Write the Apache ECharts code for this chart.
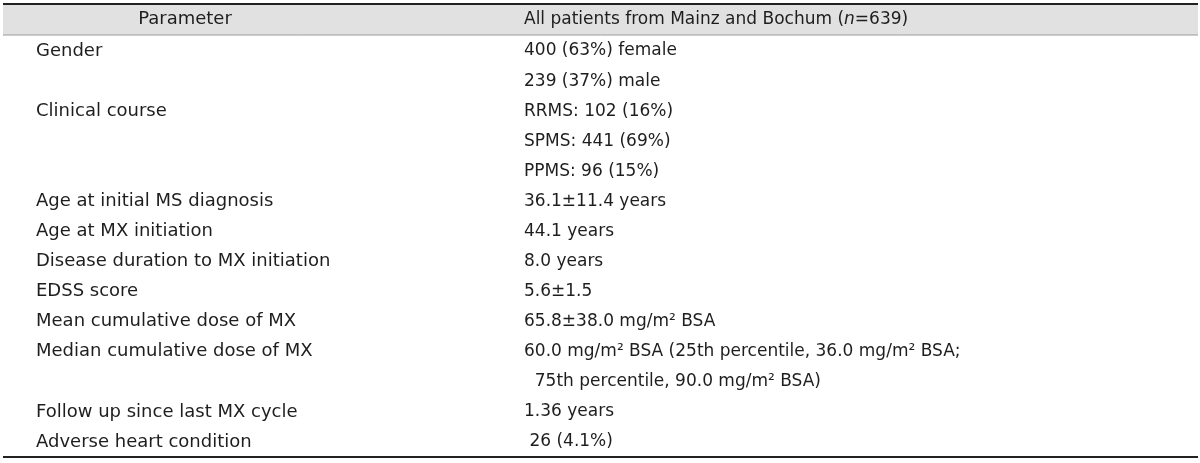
<!DOCTYPE html>
<html><head><meta charset="utf-8">
<script src="https://cdn.jsdelivr.net/npm/echarts@6/dist/echarts.min.js"></script>
<style>html,body{margin:0;padding:0;background:#fff}#c{width:1200px;height:463px}</style>
</head><body><div id="c"></div>
<script>
// ---- table content ----
const headerParam = 'Parameter';
const headerValue = 'All patients from Mainz and Bochum ({i|n}=639)';
const parameters = [
  'Gender', '', 'Clinical course', '', '',
  'Age at initial MS diagnosis', 'Age at MX initiation', 'Disease duration to MX initiation',
  'EDSS score', 'Mean cumulative dose of MX', 'Median cumulative dose of MX', '',
  'Follow up since last MX cycle', 'Adverse heart condition'
];
const values = [
  '400 (63%) female', '239 (37%) male', 'RRMS: 102 (16%)', 'SPMS: 441 (69%)', 'PPMS: 96 (15%)',
  '36.1\u00B111.4 years', '44.1 years', '8.0 years',
  '5.6\u00B11.5', '65.8\u00B138.0 mg/m\u00B2 BSA',
  '60.0 mg/m\u00B2 BSA (25th percentile, 36.0 mg/m\u00B2 BSA;', '  75th percentile, 90.0 mg/m\u00B2 BSA)',
  '1.36 years', ' 26 (4.1%)'
];
const rowIds = parameters.map((_, i) => 'r' + i);

// ---- layout ----
const W = 1200;
const FONT = 'DejaVu Sans';
const FS_P = 18, FS_V = 17;
const TXT = '#1e1e1e';
const COL_PARAM_X = 36, COL_VALUE_X = 524;

const chart = echarts.init(document.getElementById('c'), null, {renderer: 'canvas'});
const labelBase = {show: true, position: 'right', distance: 0, color: TXT, opacity: 1, fontFamily: FONT, align: 'left', verticalAlign: 'middle'};
chart.setOption({
  animation: false,
  backgroundColor: '#fff',
  grid: {left: 0, right: 0, top: 36, bottom: 6},
  xAxis: {type: 'value', min: 0, max: W, show: false},
  yAxis: {type: 'category', data: rowIds, inverse: true, show: false},
  graphic: [
    {type: 'rect', shape: {x: 3, y: 4, width: 1195, height: 31}, style: {fill: '#e1e1e1'}, silent: true},
    {type: 'line', shape: {x1: 3, y1: 4, x2: 1198, y2: 4}, style: {stroke: '#222', lineWidth: 2}},
    {type: 'line', shape: {x1: 3, y1: 35, x2: 1198, y2: 35}, style: {stroke: '#9a9a9a', lineWidth: 1}},
    {type: 'line', shape: {x1: 3, y1: 457, x2: 1198, y2: 457}, style: {stroke: '#222', lineWidth: 2}},
    {type: 'text', x: 185, y: 19.5, style: {text: headerParam, fill: TXT, fontFamily: FONT, fontSize: FS_P, align: 'center', verticalAlign: 'middle'}},
    {type: 'text', x: COL_VALUE_X, y: 19.5, style: {text: headerValue, fill: TXT, fontFamily: FONT, fontSize: FS_V, align: 'left', verticalAlign: 'middle',
      rich: {i: {fontStyle: 'italic', fontFamily: FONT, fontSize: FS_V, fill: TXT}}}}
  ],
  series: [
    {type: 'scatter', symbolSize: 0, silent: true, itemStyle: {opacity: 1},
      data: parameters.map((p, i) => [COL_PARAM_X, rowIds[i]]),
      label: Object.assign({}, labelBase, {fontSize: FS_P, formatter: p => parameters[p.dataIndex]})},
    {type: 'scatter', symbolSize: 0, silent: true, itemStyle: {opacity: 1},
      data: values.map((v, i) => [COL_VALUE_X, rowIds[i]]),
      label: Object.assign({}, labelBase, {fontSize: FS_V, formatter: p => values[p.dataIndex]})}
  ]
});
</script></body></html>
